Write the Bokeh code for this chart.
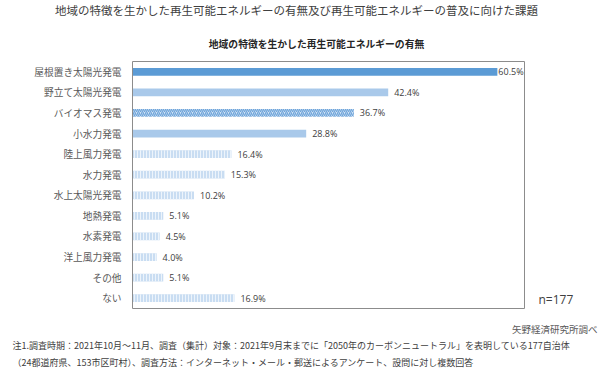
from bokeh.plotting import figure
from bokeh.models import ColumnDataSource, Label, Range1d
from bokeh.core.properties import value
from bokeh.embed import file_html
from bokeh.resources import INLINE

categories = ["屋根置き太陽光発電", "野立て太陽光発電", "バイオマス発電", "小水力発電",
              "陸上風力発電", "水力発電", "水上太陽光発電", "地熱発電", "水素発電",
              "洋上風力発電", "その他", "ない"]
values = [60.5, 42.4, 36.7, 28.8, 16.4, 15.3, 10.2, 5.1, 4.5, 4.0, 5.1, 16.9]
styles = ["solid_dark", "solid_light", "diag", "solid_light"] + ["dots"] * 8
x_max = 65.0

title_text = "地域の特徴を生かした再生可能エネルギーの有無及び再生可能エネルギーの普及に向けた課題"
subtitle_text = "地域の特徴を生かした再生可能エネルギーの有無"
n_text = "n=177"
source_text = "矢野経済研究所調べ"
note1 = "注1.調査時期：2021年10月～11月、調査（集計）対象：2021年9月末までに「2050年のカーボンニュートラル」を表明している177自治体"
note2 = "（24都道府県、153市区町村）、調査方法：インターネット・メール・郵送によるアンケート、設問に対し複数回答"

JP = "Noto Sans CJK JP"
LAT = "Open Sans"
W, H = 600, 370
FL, FR, FT, FB = 132, 524, 61, 308  # chart box edges in canvas pixels

n_rows = len(categories)
px_per_x = (FR - FL) / x_max
row_px = (FB - FT) / n_rows
# row positions: first category at the top
ypos = [n_rows - 1 - i for i in range(n_rows)]

p = figure(width=W, height=H, output_backend="svg", toolbar_location=None,
           x_axis_location=None, y_axis_location=None,
           x_range=Range1d(-FL / px_per_x, x_max + (W - FR) / px_per_x),
           y_range=Range1d(-0.5 - (H - FB) / row_px, n_rows - 0.5 + FT / row_px),
           min_border=0, min_border_left=0, min_border_right=0,
           min_border_top=0, min_border_bottom=0)
p.xgrid.visible = False
p.ygrid.visible = False
p.outline_line_color = None
p.background_fill_color = "white"
p.border_fill_color = "white"

def sub(style):
    ys = [y for y, s in zip(ypos, styles) if s == style]
    vals = [v for v, s in zip(values, styles) if s == style]
    return ColumnDataSource(dict(y=ys, right=vals))

BH = 0.38
p.hbar(y="y", right="right", left=0, height=BH, source=sub("solid_dark"),
       fill_color="#5b9bd5", line_color=None)
p.hbar(y="y", right="right", left=0, height=BH, source=sub("solid_light"),
       fill_color="#a9c9ea", line_color=None)
p.hbar(y="y", right="right", left=0, height=BH, source=sub("diag"),
       fill_color="#d3e3f5", line_color=None, hatch_pattern="/",
       hatch_color="#6fa5da", hatch_scale=4, hatch_weight=1.3)
p.hbar(y="y", right="right", left=0, height=BH, source=sub("dots"),
       fill_color="#c9ddf2", line_color=None, hatch_pattern="|",
       hatch_color="#edf4fb", hatch_scale=3, hatch_weight=1.0)

# chart box around the category band
p.quad(left=[0], right=[x_max], bottom=[-0.5], top=[n_rows - 0.5],
       fill_color="white", fill_alpha=0, line_color="#8c8c8c", line_width=1)

# category labels
p.text(x=[0] * n_rows, y=ypos, text=categories, x_offset=-11,
       text_align="right", text_baseline="middle",
       text_font=value(JP), text_font_size="9.7px", text_color="#595959")

# value labels
lab_src = ColumnDataSource(dict(y=ypos, x=values,
                                t=[f"{v:.1f}%" for v in values],
                                off=[1 if v > 55 else 6 for v in values]))
p.text(x="x", y="y", text="t", source=lab_src, x_offset="off",
       text_font=value(LAT), text_font_size="9px", text_color="#404040",
       text_baseline="middle", text_align="left")

def put(text, fx, fy, size, font=JP, align="left", color="#404040", style="normal"):
    p.add_layout(Label(x=fx, y=H - fy, x_units="screen", y_units="screen",
                       text=text, text_font=font, text_font_size=size,
                       text_align=align, text_baseline="middle",
                       text_color=color, text_font_style=style))

put(title_text, 296, 9, "11.5px", align="center", color="#404040")
put(subtitle_text, 316, 43, "9.8px", align="center", color="#262626", style="bold")
put(n_text, 538, 299, "12px", font=LAT, color="#404040")
put(source_text, 597, 328, "9.5px", align="right", color="#595959")
put(note1, 12, 345, "9px", color="#404040")
put(note2, 12, 362, "9px", color="#404040")

open("out.html", "w").write(file_html(p, INLINE))
